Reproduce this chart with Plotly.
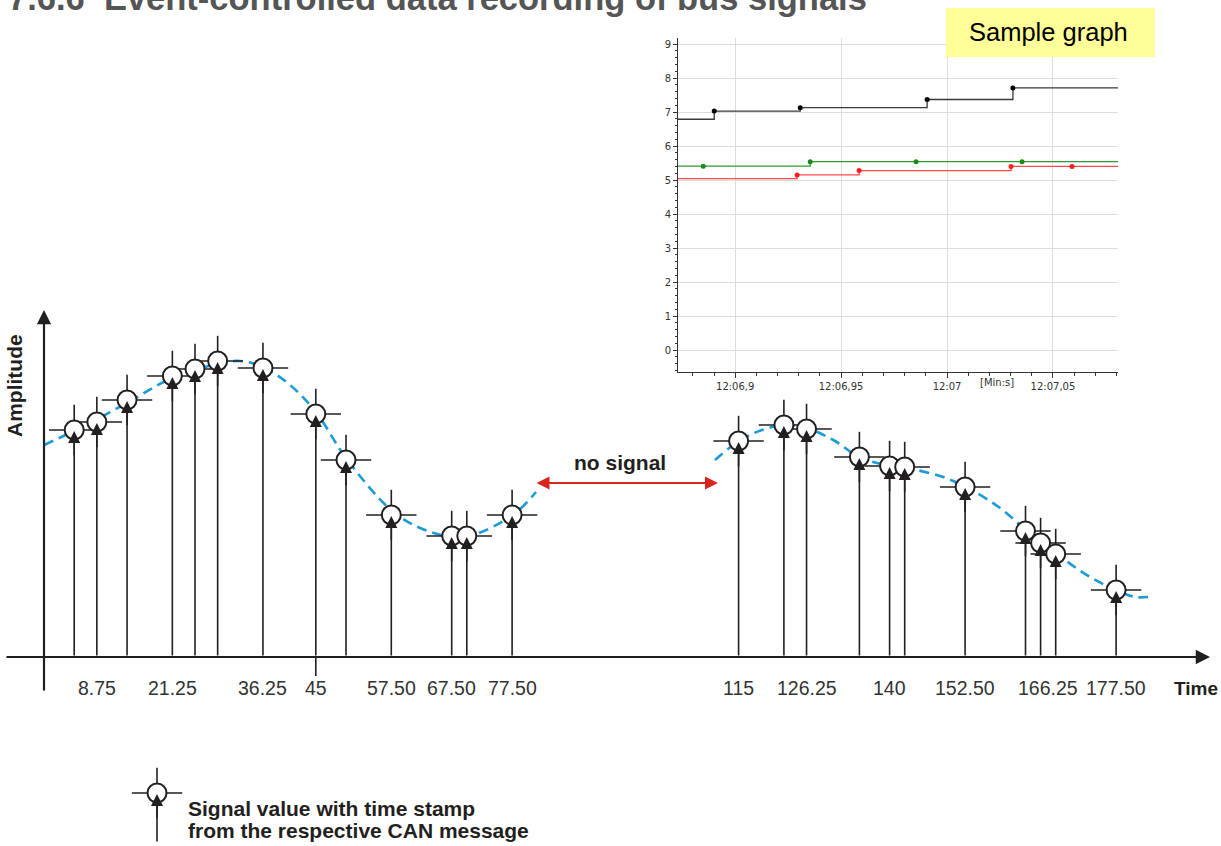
import plotly.graph_objects as go

# ---------------- main schematic data ----------------
sample_t = [5, 8.75, 13.75, 21.25, 25, 28.75, 36.25, 45, 50, 57.5, 67.5, 70, 77.5,
            115, 122.5, 126.25, 135, 140, 142.5, 152.5, 162.5, 165, 167.5, 177.5]
sample_amp = [2.27, 2.35, 2.57, 2.81, 2.88, 2.96, 2.89, 2.43, 1.97, 1.42, 1.21, 1.21, 1.42,
              2.16, 2.32, 2.28, 2.00, 1.91, 1.90, 1.70, 1.26, 1.14, 1.03, 0.67]

tick_t = [8.75, 21.25, 36.25, 45, 57.5, 67.5, 77.5, 115, 126.25, 140, 152.5, 166.25, 177.5]
tick_labels = ["8.75", "21.25", "36.25", "45", "57.50", "67.50", "77.50",
               "115", "126.25", "140", "152.50", "166.25", "177.50"]

curve1_t = [0, 5.96, 13.74, 21.19, 28.64, 32.45, 36.26, 40.73, 45.0, 50.0, 57.45, 62.25,
            67.55, 70.53, 77.65, 81.46]
curve1_amp = [2.12, 2.29, 2.54, 2.79, 2.93, 2.96, 2.90, 2.72, 2.45, 1.99, 1.47, 1.29,
              1.20, 1.21, 1.42, 1.65]
curve2_t = [111.09, 115.07, 118.87, 122.68, 126.32, 130.96, 134.93, 140.07, 142.72, 148.34,
            152.65, 158.28, 162.75, 165.23, 167.88, 173.18, 177.81, 180.63, 182.78]
curve2_amp = [1.97, 2.16, 2.27, 2.32, 2.29, 2.16, 2.00, 1.91, 1.89, 1.81,
              1.70, 1.49, 1.26, 1.14, 1.02, 0.80, 0.66, 0.60, 0.60]

gap_start, gap_end, gap_amp = 81.29, 111.59, 1.74
gap_label_t = 95.4
legend_t, legend_amp, legend_base = 18.71, -1.36, -1.86

# ---------------- inset (sample graph) data ----------------
inset_ticks = [66.9, 66.95, 67.0, 67.05]
inset_ticktext = ["12:06,9", "12:06,95", "12:07", "12:07,05"]
black_t = [66.873, 66.8901, 66.9307, 66.9906, 67.0311, 67.0807]
black_v = [6.79, 7.03, 7.13, 7.37, 7.71, 7.71]
green_t = [66.873, 66.8849, 66.9354, 66.9854, 67.0354, 67.0807]
green_v = [5.41, 5.41, 5.54, 5.54, 5.54, 5.54]
red_t = [66.873, 66.9292, 66.9585, 67.0302, 67.0590, 67.0807]
red_v = [5.04, 5.15, 5.28, 5.40, 5.40, 5.40]

INK = "#231f20"
FONT = "Liberation Sans, Arial, sans-serif"
W, H = 1221, 846

fig = go.Figure()

# dashed signal curve
for ct, ca in [(curve1_t, curve1_amp), (curve2_t, curve2_amp)]:
    fig.add_trace(go.Scatter(x=ct, y=ca, mode="lines",
                             line=dict(color="#1b9bd7", width=2.6, dash="10px,6px",
                                       shape="spline", smoothing=1.0),
                             hoverinfo="skip", showlegend=False))

# sample markers (crosshair + white circle)
mx = sample_t + [legend_t]
my = sample_amp + [legend_amp]
fig.add_trace(go.Scatter(x=mx, y=my, mode="markers",
                         marker=dict(symbol="line-ew", size=36, color=INK,
                                     line=dict(color=INK, width=1.6)),
                         hoverinfo="skip", showlegend=False))
fig.add_trace(go.Scatter(x=mx, y=my, mode="markers",
                         marker=dict(symbol="line-ns", size=36, color=INK,
                                     line=dict(color=INK, width=1.6)),
                         hoverinfo="skip", showlegend=False))
fig.add_trace(go.Scatter(x=mx, y=my, mode="markers",
                         marker=dict(symbol="circle", size=19, color="white",
                                     line=dict(color=INK, width=2)),
                         hoverinfo="skip", showlegend=False))

annotations = []
# stems with arrowheads
for t, a in zip(sample_t, sample_amp):
    annotations.append(dict(x=t, y=a, ax=t, ay=0, xref="x", yref="y", axref="x", ayref="y",
                            text="", showarrow=True, arrowhead=2, arrowsize=1.5,
                            arrowwidth=1.6, arrowcolor=INK, standoff=1))
annotations.append(dict(x=legend_t, y=legend_amp, ax=legend_t, ay=legend_base,
                        xref="x", yref="y", axref="x", ayref="y",
                        text="", showarrow=True, arrowhead=2, arrowsize=1.5,
                        arrowwidth=1.6, arrowcolor=INK, standoff=1))

# axes arrows
annotations.append(dict(x=0, y=3.47, ax=0, ay=-0.35, xref="x", yref="y", axref="x", ayref="y",
                        text="", showarrow=True, arrowhead=2, arrowsize=1.3,
                        arrowwidth=2.2, arrowcolor=INK))
annotations.append(dict(x=193.05, y=0, ax=-6.46, ay=0, xref="x", yref="y", axref="x", ayref="y",
                        text="", showarrow=True, arrowhead=2, arrowsize=1.3,
                        arrowwidth=2.2, arrowcolor=INK))

# tick labels
for t, lab in zip(tick_t, tick_labels):
    annotations.append(dict(x=t, y=0, xref="x", yref="y", text=lab, showarrow=False,
                            xanchor="center", yanchor="middle", yshift=-31,
                            font=dict(family=FONT, size=19.5, color="#333")))
annotations.append(dict(x=1196 / W, y=1 - 688 / H, xref="paper", yref="paper",
                        text="<b>Time</b>", showarrow=False,
                        xanchor="center", yanchor="middle",
                        font=dict(family=FONT, size=19, color=INK)))
annotations.append(dict(x=14 / W, y=1 - 386 / H, xref="paper", yref="paper",
                        xanchor="center", yanchor="middle",
                        text="<b>Amplitude</b>", textangle=-90, showarrow=False,
                        font=dict(family=FONT, size=21, color=INK)))

# no signal arrow
annotations.append(dict(x=gap_end, y=gap_amp, ax=gap_start, ay=gap_amp,
                        xref="x", yref="y", axref="x", ayref="y", text="", showarrow=True,
                        arrowhead=2, startarrowhead=2, arrowside="end+start",
                        arrowsize=1.3, startarrowsize=1.3, arrowwidth=2, arrowcolor="#d7261e"))
annotations.append(dict(x=gap_label_t, y=gap_amp, xref="x", yref="y",
                        text="<b>no signal</b>", showarrow=False, yshift=21,
                        xanchor="center", yanchor="middle",
                        font=dict(family=FONT, size=21, color=INK)))

# legend text (two lines)
for txt, yc in [("Signal value with time stamp", 808), ("from the respective CAN message", 830)]:
    annotations.append(dict(x=186 / W, y=1 - yc / H, xref="paper", yref="paper",
                            xanchor="left", yanchor="middle", showarrow=False,
                            text="<b>" + txt + "</b>",
                            font=dict(family=FONT, size=21, color=INK)))

# title (cut off at the top)
annotations.append(dict(x=6 / W, y=1 + 2 / H, xref="paper", yref="paper",
                        xanchor="left", yanchor="middle", showarrow=False,
                        text="<b>7.6.6  Event-controlled data recording of bus signals</b>",
                        font=dict(family=FONT, size=34.5, color="#555555")))

# 45 tick below axis
shapes = [dict(type="line", x0=45, x1=45, y0=0, y1=-0.19, xref="x", yref="y",
               line=dict(color=INK, width=1.6))]

# ---------------- inset ----------------
for tt, vv, lc, dc in [(black_t, black_v, "#3a3a3a", "#000000"),
                       (green_t, green_v, "#2e9a2e", "#1a8a1a"),
                       (red_t, red_v, "#ff4a4a", "#ff2020")]:
    fig.add_trace(go.Scatter(x=tt, y=vv, mode="lines", xaxis="x2", yaxis="y2",
                             line=dict(color=lc, width=1.3, shape="hv"),
                             hoverinfo="skip", showlegend=False))
    fig.add_trace(go.Scatter(x=tt[1:5], y=vv[1:5], mode="markers", xaxis="x2", yaxis="y2",
                             marker=dict(color=dc, size=5),
                             hoverinfo="skip", showlegend=False))

annotations.append(dict(x=997 / W, y=1 - 383 / H, xref="paper", yref="paper",
                        text="[Min:s]", showarrow=False, xanchor="center", yanchor="middle",
                        font=dict(family="DejaVu Sans", size=10, color="#333")))

# Sample graph box
shapes.append(dict(type="rect", xref="paper", yref="paper", x0=946 / W, x1=1155 / W,
                   y0=1 - 57 / H, y1=1 - 8 / H, fillcolor="#ffff99",
                   line=dict(width=0), layer="above"))
annotations.append(dict(x=1048 / W, y=1 - 32 / H, xref="paper", yref="paper",
                        text="Sample graph", showarrow=False,
                        xanchor="center", yanchor="middle",
                        font=dict(family=FONT, size=25.5, color="#000")))

hidden = dict(showgrid=False, zeroline=False, showticklabels=False, showline=False,
              ticks="")
fig.update_layout(
    width=W, height=H, margin=dict(l=0, r=0, t=0, b=0),
    paper_bgcolor="white", plot_bgcolor="rgba(0,0,0,0)",
    xaxis=dict(range=[-44 / 6.04, (W - 44) / 6.04], domain=[0, 1], **hidden),
    yaxis=dict(range=[-1.89, 6.57], domain=[0, 1], **hidden),
    xaxis2=dict(domain=[678 / W, 1118 / W], anchor="y2", range=[66.873, 67.0807],
                tickmode="array", tickvals=inset_ticks, ticktext=inset_ticktext,
                showgrid=True, gridcolor="#dddddd", gridwidth=1, zeroline=False,
                showline=True, linecolor="#333", linewidth=1,
                ticks="outside", ticklen=5, tickcolor="#333",
                tickfont=dict(family="DejaVu Sans", size=10, color="#333"),
                minor=dict(tickmode="linear", tick0=66.9, dtick=0.01, ticks="outside",
                           ticklen=3, tickcolor="#333", showgrid=False)),
    yaxis2=dict(domain=[1 - 372 / H, 1 - 38 / H], anchor="x2", range=[-0.647, 9.18],
                tickmode="linear", tick0=0, dtick=1,
                showgrid=True, gridcolor="#dddddd", gridwidth=1, zeroline=False,
                showline=True, linecolor="#333", linewidth=1,
                ticks="outside", ticklen=4, tickcolor="#333",
                tickfont=dict(family="DejaVu Sans", size=10, color="#333"),
                minor=dict(tickmode="linear", tick0=0, dtick=0.2, ticks="outside",
                           ticklen=2, tickcolor="#333", showgrid=False)),
    annotations=annotations, shapes=shapes,
)

fig.write_html("out.html", config={"displayModeBar": False},
               post_script="document.body.style.margin='0';")
